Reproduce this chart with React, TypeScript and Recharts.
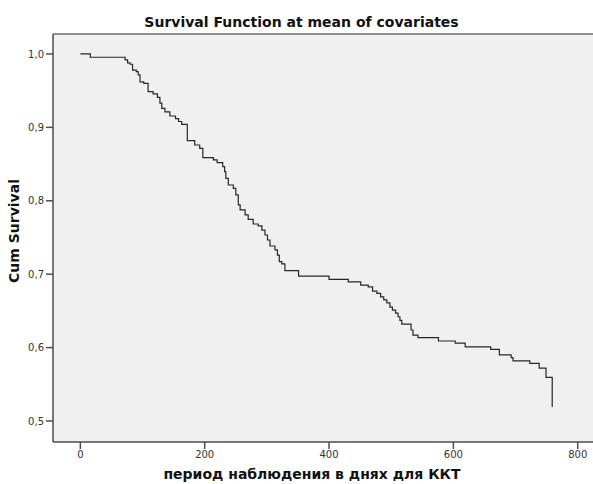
import { LineChart, Line, XAxis, YAxis, CartesianGrid, ReferenceLine } from 'recharts';

// Kaplan–Meier style step points: day of event and cumulative survival after it
const survivalDays = [
  0, 16, 72, 76, 80, 84, 90, 93, 96, 102, 109, 117, 124, 128, 131, 136, 144, 153, 158, 163,
  172, 184, 192, 197, 214, 220, 229, 232, 234, 238, 246, 250, 254, 257, 265, 270, 278, 286,
  292, 297, 301, 305, 313, 317, 320, 324, 329, 351, 400, 431, 451, 463, 470, 477, 483, 488,
  493, 498, 502, 507, 511, 514, 517, 532, 535, 543, 576, 603, 619, 660, 674, 693, 696, 723,
  738, 749, 759,
];
const survivalValues = [
  1.0, 0.9955, 0.992, 0.988, 0.986, 0.978, 0.976, 0.9714, 0.962, 0.96, 0.9486, 0.9455, 0.941,
  0.933, 0.926, 0.921, 0.9155, 0.912, 0.908, 0.904, 0.882, 0.876, 0.8715, 0.8587, 0.8556,
  0.852, 0.8465, 0.8397, 0.8306, 0.8215, 0.817, 0.808, 0.7943, 0.7875, 0.7807, 0.7748, 0.7684,
  0.7657, 0.76, 0.7534, 0.7466, 0.7384, 0.733, 0.726, 0.717, 0.714, 0.7048, 0.6975, 0.693,
  0.6894, 0.685, 0.6826, 0.677, 0.674, 0.669, 0.665, 0.661, 0.655, 0.651, 0.647, 0.642, 0.637,
  0.632, 0.624, 0.617, 0.6135, 0.609, 0.606, 0.601, 0.5977, 0.59, 0.5863, 0.582, 0.5786, 0.572,
  0.5595, 0.519,
];

const xTicks = [0, 200, 400, 600, 800];
const yTicks = [0.5, 0.6, 0.7, 0.8, 0.9, 1.0];

const rows = survivalDays.map((day, i) => ({ day, survival: survivalValues[i] }));

const FONT = '"DejaVu Sans", Verdana, sans-serif';
const X_DOMAIN: [number, number] = [-44, 824.6];
const Y_DOMAIN: [number, number] = [0.4714, 1.0272];

const fmtComma = (v: number) => v.toFixed(1).replace('.', ',');

const XTitle = () => (
  <text x={312} y={479} textAnchor="middle" fontSize={14} fontWeight="bold" fill="#111" fontFamily={FONT}>
    период наблюдения в днях для ККТ
  </text>
);

const YTitle = () => (
  <text
    x={0}
    y={0}
    transform="translate(19 231) rotate(-90)"
    textAnchor="middle"
    fontSize={14}
    fontWeight="bold"
    fill="#111"
    fontFamily={FONT}
  >
    Cum Survival
  </text>
);

export default function App() {
  return (
    <div style={{ position: 'absolute', left: 0, top: 0, width: 593, height: 484, background: '#fff', fontFamily: FONT }}>
      <div
        style={{
          position: 'absolute',
          left: 0,
          width: 603,
          top: 15,
          textAlign: 'center',
          fontSize: 14,
          lineHeight: '14px',
          fontWeight: 'bold',
          color: '#111',
          whiteSpace: 'nowrap',
        }}
      >
        Survival Function at mean of covariates
      </div>
      <LineChart
        width={593}
        height={484}
        data={rows}
        margin={{ top: 34, right: 0, bottom: 0, left: 0 }}
      >
        <CartesianGrid horizontal={false} vertical={false} fill="#f0f0f0" />
        <ReferenceLine y={Y_DOMAIN[1]} stroke="#6e6e6e" strokeWidth={1.5} />
        <XAxis
          dataKey="day"
          type="number"
          domain={X_DOMAIN}
          ticks={xTicks}
          allowDataOverflow
          height={42}
          stroke="#4d4d4d"
          strokeWidth={1.5}
          tickSize={7}
          tick={{ fontSize: 10, fill: '#333', fontFamily: FONT }}
          label={{ content: XTitle }}
        />
        <YAxis
          type="number"
          domain={Y_DOMAIN}
          ticks={yTicks}
          allowDataOverflow
          width={53}
          stroke="#4d4d4d"
          strokeWidth={1.5}
          tickSize={7}
          tickFormatter={fmtComma}
          tick={{ fontSize: 10, fill: '#333', fontFamily: FONT }}
          label={{ content: YTitle }}
        />
        <Line
          type="stepAfter"
          dataKey="survival"
          stroke="#262626"
          strokeWidth={1.2}
          dot={false}
          activeDot={false}
          isAnimationActive={false}
        />
      </LineChart>
    </div>
  );
}
